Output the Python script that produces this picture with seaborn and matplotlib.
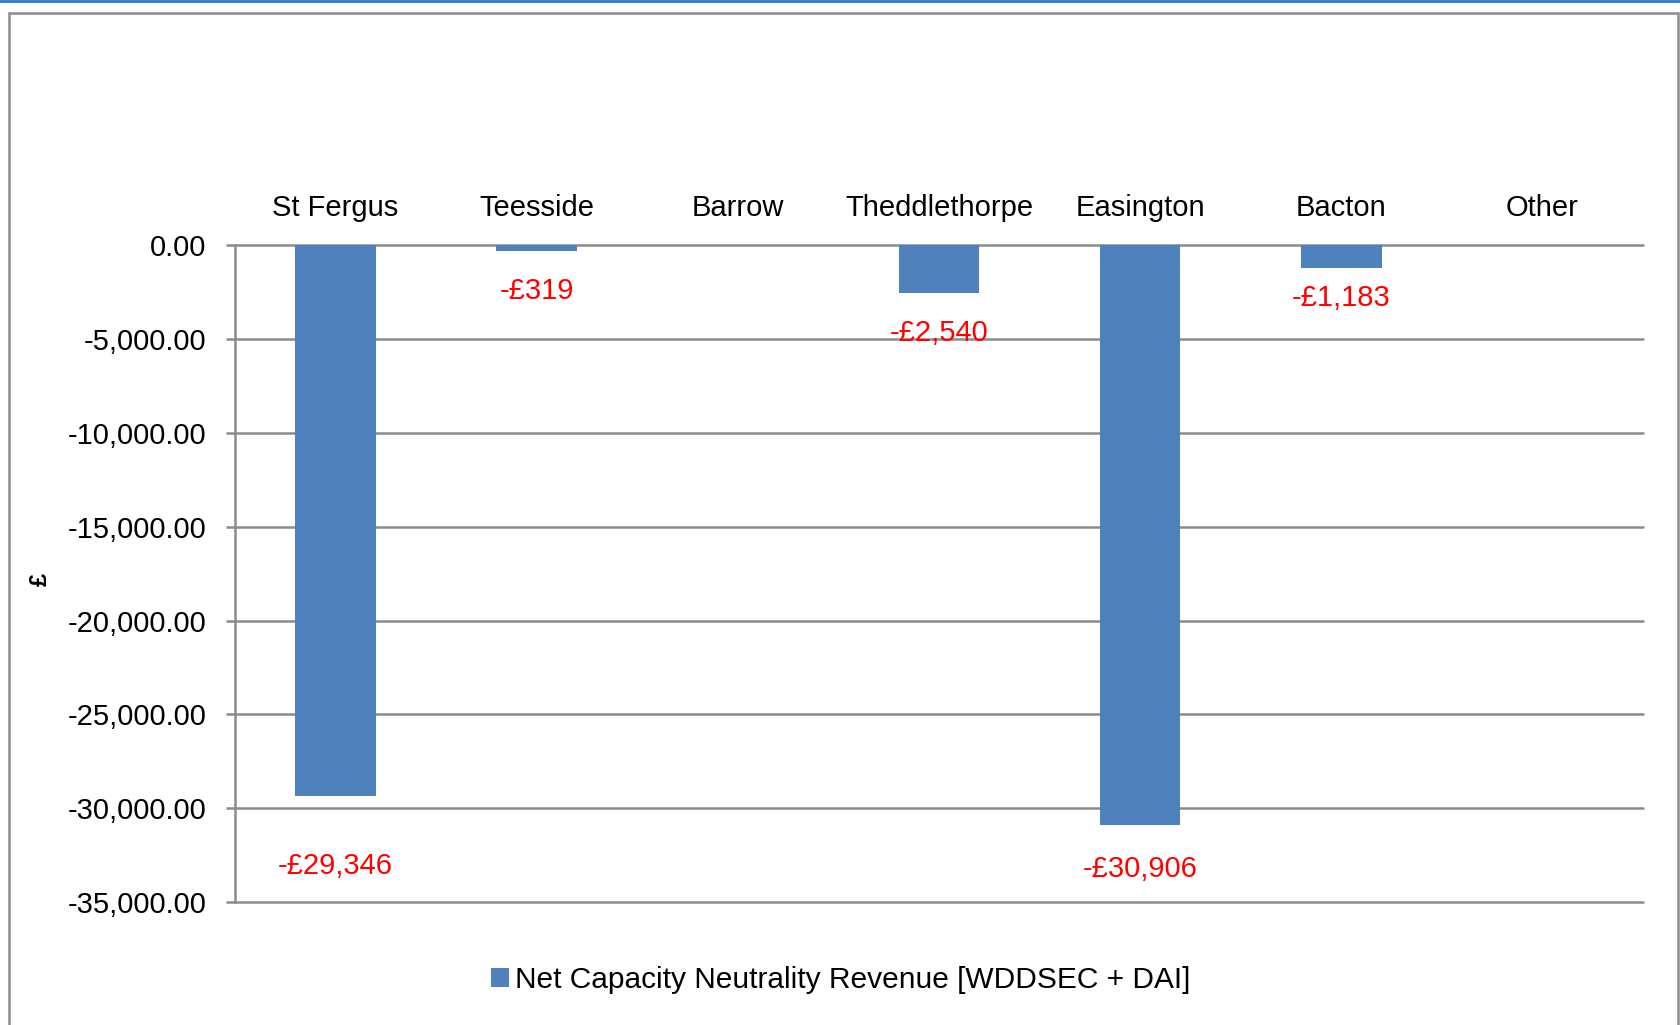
import matplotlib
matplotlib.use("Agg")
import matplotlib.pyplot as plt
import matplotlib.ticker as mticker
from matplotlib.patches import Rectangle
from matplotlib.lines import Line2D
import pandas as pd
import seaborn as sns

terminals = ['St Fergus', 'Teesside', 'Barrow', 'Theddlethorpe', 'Easington', 'Bacton', 'Other']
revenue = [-29346, -319, 0, -2540, -30906, -1183, 0]
label_text = ['-£29,346', '-£319', '', '-£2,540', '-£30,906', '-£1,183', '']
series_name = 'Net Capacity Neutrality Revenue [WDDSEC + DAI]'

df = pd.DataFrame({'terminal': terminals, 'revenue': revenue})

sns.set_theme(style='white')
plt.rcParams['font.family'] = ['Liberation Sans', 'DejaVu Sans']
plt.rcParams['text.color'] = 'black'
plt.rcParams['xtick.color'] = 'black'
plt.rcParams['ytick.color'] = 'black'

bar_color = '#4F81BD'
grid_color = '#8C8C8C'

fig = plt.figure(figsize=(16.81, 10.25), dpi=100)
ax = fig.add_axes([0.1398, 0.12, 0.8376, 0.6405])

sns.barplot(data=df, x='terminal', y='revenue', color=bar_color, width=0.4,
            ax=ax, label=series_name, saturation=1, linewidth=0)

ax.set_ylim(-35000, 0)
ax.yaxis.set_major_locator(mticker.MultipleLocator(5000))
ax.yaxis.set_major_formatter(mticker.FuncFormatter(lambda v, p: f'{v:,.2f}'))
ax.grid(axis='y', color=grid_color, linewidth=1.8)
for gl in ax.get_ygridlines():
    gl.set_clip_on(False)
ax.set_axisbelow(True)
for s in ['top', 'right', 'bottom']:
    ax.spines[s].set_visible(False)
ax.spines['left'].set_color(grid_color)
ax.spines['left'].set_linewidth(1.8)

ax.xaxis.tick_top()
ax.tick_params(axis='x', length=0, pad=17, labelsize=21, labelcolor='black')
ax.tick_params(axis='y', left=True, length=6.5, width=1.8, color=grid_color, pad=14,
               labelsize=21, labelcolor='black')
ax.set_xlabel('')
ax.set_ylabel('')

# red value labels under the bars
offsets = [70, 40, 0, 40, 44, 30, 0]
for i, (v, t) in enumerate(zip(revenue, label_text)):
    if t:
        ax.annotate(t, (i, v), xytext=(0, -offsets[i]), textcoords='offset pixels',
                    ha='center', va='center', color='red', fontsize=21)

fig.text(40 / 1681, 1 - 579 / 1025, '£', rotation=90, ha='center', va='center',
         fontsize=17, fontweight='bold', color='black')

leg = ax.legend(loc='center', bbox_to_anchor=(0.5, 1 - 980 / 1025),
                bbox_transform=fig.transFigure, frameon=False, fontsize=21.5,
                handlelength=0.6, handleheight=0.6, handletextpad=0.2)
for t in leg.get_texts():
    t.set_color('black')

# outer chart frame and top rule
fig.patches.append(Rectangle((9 / 1681, -0.05), (1678 - 9) / 1681, 1 - 13 / 1025 + 0.05,
                             transform=fig.transFigure, fill=False,
                             edgecolor='#8C8C8C', linewidth=1.8))
fig.lines.append(Line2D([0, 1], [0.9995, 0.9995], transform=fig.transFigure,
                        color='#2E75D0', linewidth=2))

fig.savefig('out.png', dpi=100)
